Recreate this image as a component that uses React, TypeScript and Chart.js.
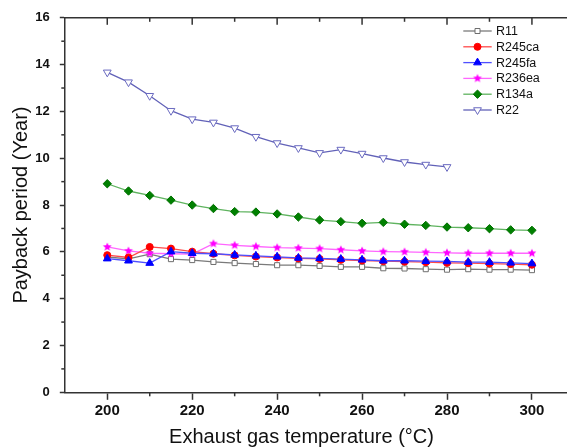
import React, { useEffect, useRef } from 'react';
import { Chart, registerables } from 'chart.js';

Chart.register(...registerables);

// ---- data ----
const temps = [200, 205, 210, 215, 220, 225, 230, 235, 240, 245, 250, 255, 260, 265, 270, 275, 280, 285, 290, 295, 300];
const tempsR22 = [200, 205, 210, 215, 220, 225, 230, 235, 240, 245, 250, 255, 260, 265, 270, 275, 280];
const r11 = [5.78, 5.70, 5.90, 5.69, 5.65, 5.57, 5.52, 5.48, 5.43, 5.43, 5.40, 5.36, 5.36, 5.30, 5.29, 5.26, 5.24, 5.26, 5.24, 5.24, 5.22];
const r245ca = [5.86, 5.76, 6.21, 6.14, 6.01, 5.92, 5.85, 5.80, 5.76, 5.72, 5.70, 5.66, 5.63, 5.60, 5.58, 5.56, 5.53, 5.52, 5.50, 5.48, 5.45];
const r245fa = [5.71, 5.62, 5.52, 6.01, 5.94, 5.92, 5.87, 5.83, 5.79, 5.74, 5.72, 5.69, 5.66, 5.62, 5.62, 5.60, 5.59, 5.56, 5.56, 5.53, 5.50];
const r236ea = [6.21, 6.04, 5.94, 5.92, 5.90, 6.35, 6.28, 6.23, 6.18, 6.16, 6.14, 6.09, 6.04, 6.01, 6.00, 5.98, 5.96, 5.94, 5.94, 5.94, 5.94];
const r134a = [8.91, 8.60, 8.41, 8.21, 8.00, 7.85, 7.72, 7.70, 7.62, 7.49, 7.36, 7.29, 7.22, 7.26, 7.18, 7.13, 7.06, 7.03, 6.99, 6.94, 6.92];
const r22 = [13.67, 13.25, 12.67, 12.03, 11.67, 11.53, 11.29, 10.92, 10.65, 10.44, 10.23, 10.37, 10.20, 10.01, 9.84, 9.73, 9.63];
const seriesNames = ['R11', 'R245ca', 'R245fa', 'R236ea', 'R134a', 'R22'];
const xTickValues = [200, 210, 220, 230, 240, 250, 260, 270, 280, 290, 300];
const yTickValues = [0, 1, 2, 3, 4, 5, 6, 7, 8, 9, 10, 11, 12, 13, 14, 15, 16];
const xTitle = 'Exhaust gas temperature (°C)';
const yTitle = 'Payback period (Year)';

const FONT = '"Liberation Sans", Arial, sans-serif';
const AXIS = '#333333';

function makeStar(color: string, outer: number) {
  const size = Math.ceil(outer * 2 + 2);
  const c = document.createElement('canvas');
  c.width = size;
  c.height = size;
  const g = c.getContext('2d')!;
  const cx = size / 2, cy = size / 2;
  const inner = outer * 0.45;
  g.beginPath();
  for (let i = 0; i < 10; i++) {
    const r = i % 2 === 0 ? outer : inner;
    const a = -Math.PI / 2 + (i * Math.PI) / 5;
    const px = cx + r * Math.cos(a);
    const py = cy + r * Math.sin(a);
    if (i === 0) g.moveTo(px, py); else g.lineTo(px, py);
  }
  g.closePath();
  g.fillStyle = color;
  g.fill();
  return c;
}

type Style = {
  line: string;
  kind: 'rect' | 'circle' | 'triangle' | 'invtri' | 'diamond' | 'star';
  fill: string;
  stroke: string;
};

const styles: Style[] = [
  { line: '#7a7a7a', kind: 'rect', fill: '#ffffff', stroke: '#6e6e6e' },
  { line: '#ff4a4a', kind: 'circle', fill: '#ff0000', stroke: '#ff0000' },
  { line: '#4f4fff', kind: 'triangle', fill: '#0000ff', stroke: '#0000ff' },
  { line: '#ff66ff', kind: 'star', fill: '#ff00ff', stroke: '#ff00ff' },
  { line: '#5fb35f', kind: 'diamond', fill: '#008000', stroke: '#007000' },
  { line: '#6262b8', kind: 'invtri', fill: '#ffffff', stroke: '#6a6ac0' },
];

function drawMarker(ctx: CanvasRenderingContext2D, s: Style, x: number, y: number, star: HTMLCanvasElement) {
  ctx.save();
  ctx.fillStyle = s.fill;
  ctx.strokeStyle = s.stroke;
  ctx.lineWidth = 1;
  if (s.kind === 'star') {
    ctx.drawImage(star, x - star.width / 2, y - star.height / 2);
    ctx.restore();
    return;
  }
  ctx.beginPath();
  if (s.kind === 'rect') {
    ctx.rect(x - 2.5, y - 2.5, 5, 5);
  } else if (s.kind === 'circle') {
    ctx.arc(x, y, 3.5, 0, Math.PI * 2);
  } else if (s.kind === 'triangle') {
    const r = 4.5;
    ctx.moveTo(x, y - r);
    ctx.lineTo(x + 0.866 * r, y + 0.5 * r);
    ctx.lineTo(x - 0.866 * r, y + 0.5 * r);
    ctx.closePath();
  } else if (s.kind === 'invtri') {
    const r = 4.5;
    ctx.moveTo(x, y + r);
    ctx.lineTo(x + 0.866 * r, y - 0.5 * r);
    ctx.lineTo(x - 0.866 * r, y - 0.5 * r);
    ctx.closePath();
  } else if (s.kind === 'diamond') {
    const r = 4.2;
    ctx.moveTo(x - r, y);
    ctx.lineTo(x, y - r);
    ctx.lineTo(x + r, y);
    ctx.lineTo(x, y + r);
    ctx.closePath();
  }
  ctx.fill();
  ctx.stroke();
  ctx.restore();
}

export default function App() {
  const ref = useRef<HTMLCanvasElement | null>(null);

  useEffect(() => {
    if (!ref.current) return;
    const star = makeStar('#ff00ff', 4.6);

    const seriesData = [r11, r245ca, r245fa, r236ea, r134a, r22];
    const seriesX = [temps, temps, temps, temps, temps, tempsR22];
    const orders = [6, 4, 3, 5, 2, 1];

    const datasets = seriesNames.map((name, i) => {
      const s = styles[i];
      const base: any = {
        label: name,
        data: seriesData[i].map((v, j) => ({ x: seriesX[i][j], y: v })),
        borderColor: s.line,
        borderWidth: 1.3,
        pointBackgroundColor: s.fill,
        pointBorderColor: s.stroke,
        pointBorderWidth: 1,
        tension: 0,
        order: orders[i],
      };
      if (s.kind === 'rect') { base.pointStyle = 'rect'; base.pointRadius = 3.6; }
      if (s.kind === 'circle') { base.pointStyle = 'circle'; base.pointRadius = 3.5; }
      if (s.kind === 'triangle') { base.pointStyle = 'triangle'; base.pointRadius = 4.5; }
      if (s.kind === 'invtri') { base.pointStyle = 'triangle'; base.pointRadius = 4.5; base.pointRotation = 180; }
      if (s.kind === 'diamond') { base.pointStyle = 'rectRot'; base.pointRadius = 4.2; }
      if (s.kind === 'star') { base.pointStyle = star; base.pointRadius = 4.6; }
      return base;
    });

    const framePlugin = {
      id: 'frameAndLegend',
      afterDraw(chart: any) {
        const { ctx, chartArea: ca, scales } = chart;
        const xs = scales.x, ys = scales.y;
        ctx.save();
        ctx.strokeStyle = AXIS;
        ctx.lineWidth = 1.5;
        ctx.beginPath();
        ctx.moveTo(ca.left, ca.top);
        ctx.lineTo(ca.right, ca.top);
        ctx.lineTo(ca.right, ca.bottom);
        ctx.stroke();
        xTickValues.forEach((v) => {
          const px = xs.getPixelForValue(v);
          const major = v % 20 === 0;
          ctx.beginPath();
          ctx.moveTo(px, ca.top);
          ctx.lineTo(px, ca.top + (major ? 7 : 4));
          ctx.stroke();
          if (!major) {
            ctx.beginPath();
            ctx.moveTo(px, ca.bottom);
            ctx.lineTo(px, ca.bottom + 4);
            ctx.stroke();
          }
        });
        yTickValues.forEach((v) => {
          if (v % 2 === 1) {
            const py = ys.getPixelForValue(v);
            ctx.beginPath();
            ctx.moveTo(ca.left, py);
            ctx.lineTo(ca.left - 3.5, py);
            ctx.stroke();
          }
        });
        // x-axis title
        ctx.fillStyle = '#111';
        ctx.font = `20px ${FONT}`;
        ctx.textAlign = 'center';
        ctx.textBaseline = 'middle';
        ctx.fillText(xTitle, 301.5, 437);
        // legend
        const lx0 = 463.3, lx1 = 491.7, mx = 477.5, tx = 496;
        ctx.font = `12.5px ${FONT}`;
        ctx.textAlign = 'left';
        seriesNames.forEach((name, i) => {
          const y = 31 + i * 15.8;
          const s = styles[i];
          ctx.strokeStyle = s.line;
          ctx.lineWidth = 1.3;
          ctx.beginPath();
          ctx.moveTo(lx0, y);
          ctx.lineTo(lx1, y);
          ctx.stroke();
          drawMarker(ctx, s, mx, y, star);
          ctx.fillStyle = '#111';
          ctx.fillText(name, tx, y + 0.5);
        });
        ctx.restore();
      },
    };

    const chart = new Chart(ref.current, {
      type: 'line',
      data: { datasets },
      options: {
        responsive: false,
        animation: false,
        devicePixelRatio: 1,
        layout: { padding: { top: 15.7, right: 5.5, left: 0, bottom: 0 } },
        plugins: { legend: { display: false }, tooltip: { enabled: false }, title: { display: false } },
        scales: {
          x: {
            type: 'linear',
            min: 190,
            max: 310,
            afterBuildTicks: (s: any) => {
              s.ticks = xTickValues.map((v) => ({ value: v }));
            },
            afterFit: (s: any) => {
              s.height = 54.7;
            },
            ticks: {
              autoSkip: false,
              maxRotation: 0,
              padding: 2.5,
              color: '#111',
              font: { family: FONT, size: 15, weight: 'bold' },
              callback: (v: any) => (Number(v) % 20 === 0 ? String(v) : ''),
            },
            grid: {
              drawOnChartArea: false,
              drawTicks: true,
              tickLength: 7.5,
              tickWidth: 1.5,
              tickColor: (c: any) => (c.tick && c.tick.value % 20 === 0 ? AXIS : 'rgba(0,0,0,0)'),
            },
            border: { display: true, color: AXIS, width: 1.5 },
          },
          y: {
            type: 'linear',
            min: 0,
            max: 16,
            afterBuildTicks: (s: any) => {
              s.ticks = yTickValues.map((v) => ({ value: v }));
            },
            afterFit: (s: any) => {
              s.width = 64.8;
            },
            ticks: {
              autoSkip: false,
              padding: 10,
              color: '#111',
              font: { family: FONT, size: 13, weight: 'bold' },
              callback: (v: any) => (Number(v) % 2 === 0 ? String(v) : ''),
            },
            grid: {
              drawOnChartArea: false,
              drawTicks: true,
              tickLength: 5,
              tickWidth: 1.5,
              tickColor: (c: any) => (c.tick && c.tick.value % 2 === 0 ? AXIS : 'rgba(0,0,0,0)'),
            },
            border: { display: true, color: AXIS, width: 1.5 },
            title: {
              display: true,
              text: yTitle,
              color: '#111',
              font: { family: FONT, size: 20 },
              padding: { top: 9.5, bottom: 0 },
            },
          },
        },
      } as any,
      plugins: [framePlugin],
    });

    return () => chart.destroy();
  }, []);

  return (
    <div style={{ position: 'absolute', left: 0, top: 0, width: 567, height: 447, overflow: 'hidden', background: '#fff' }}>
      <canvas ref={ref} width={580} height={447} style={{ width: 580, height: 447, display: 'block' }} />
    </div>
  );
}
